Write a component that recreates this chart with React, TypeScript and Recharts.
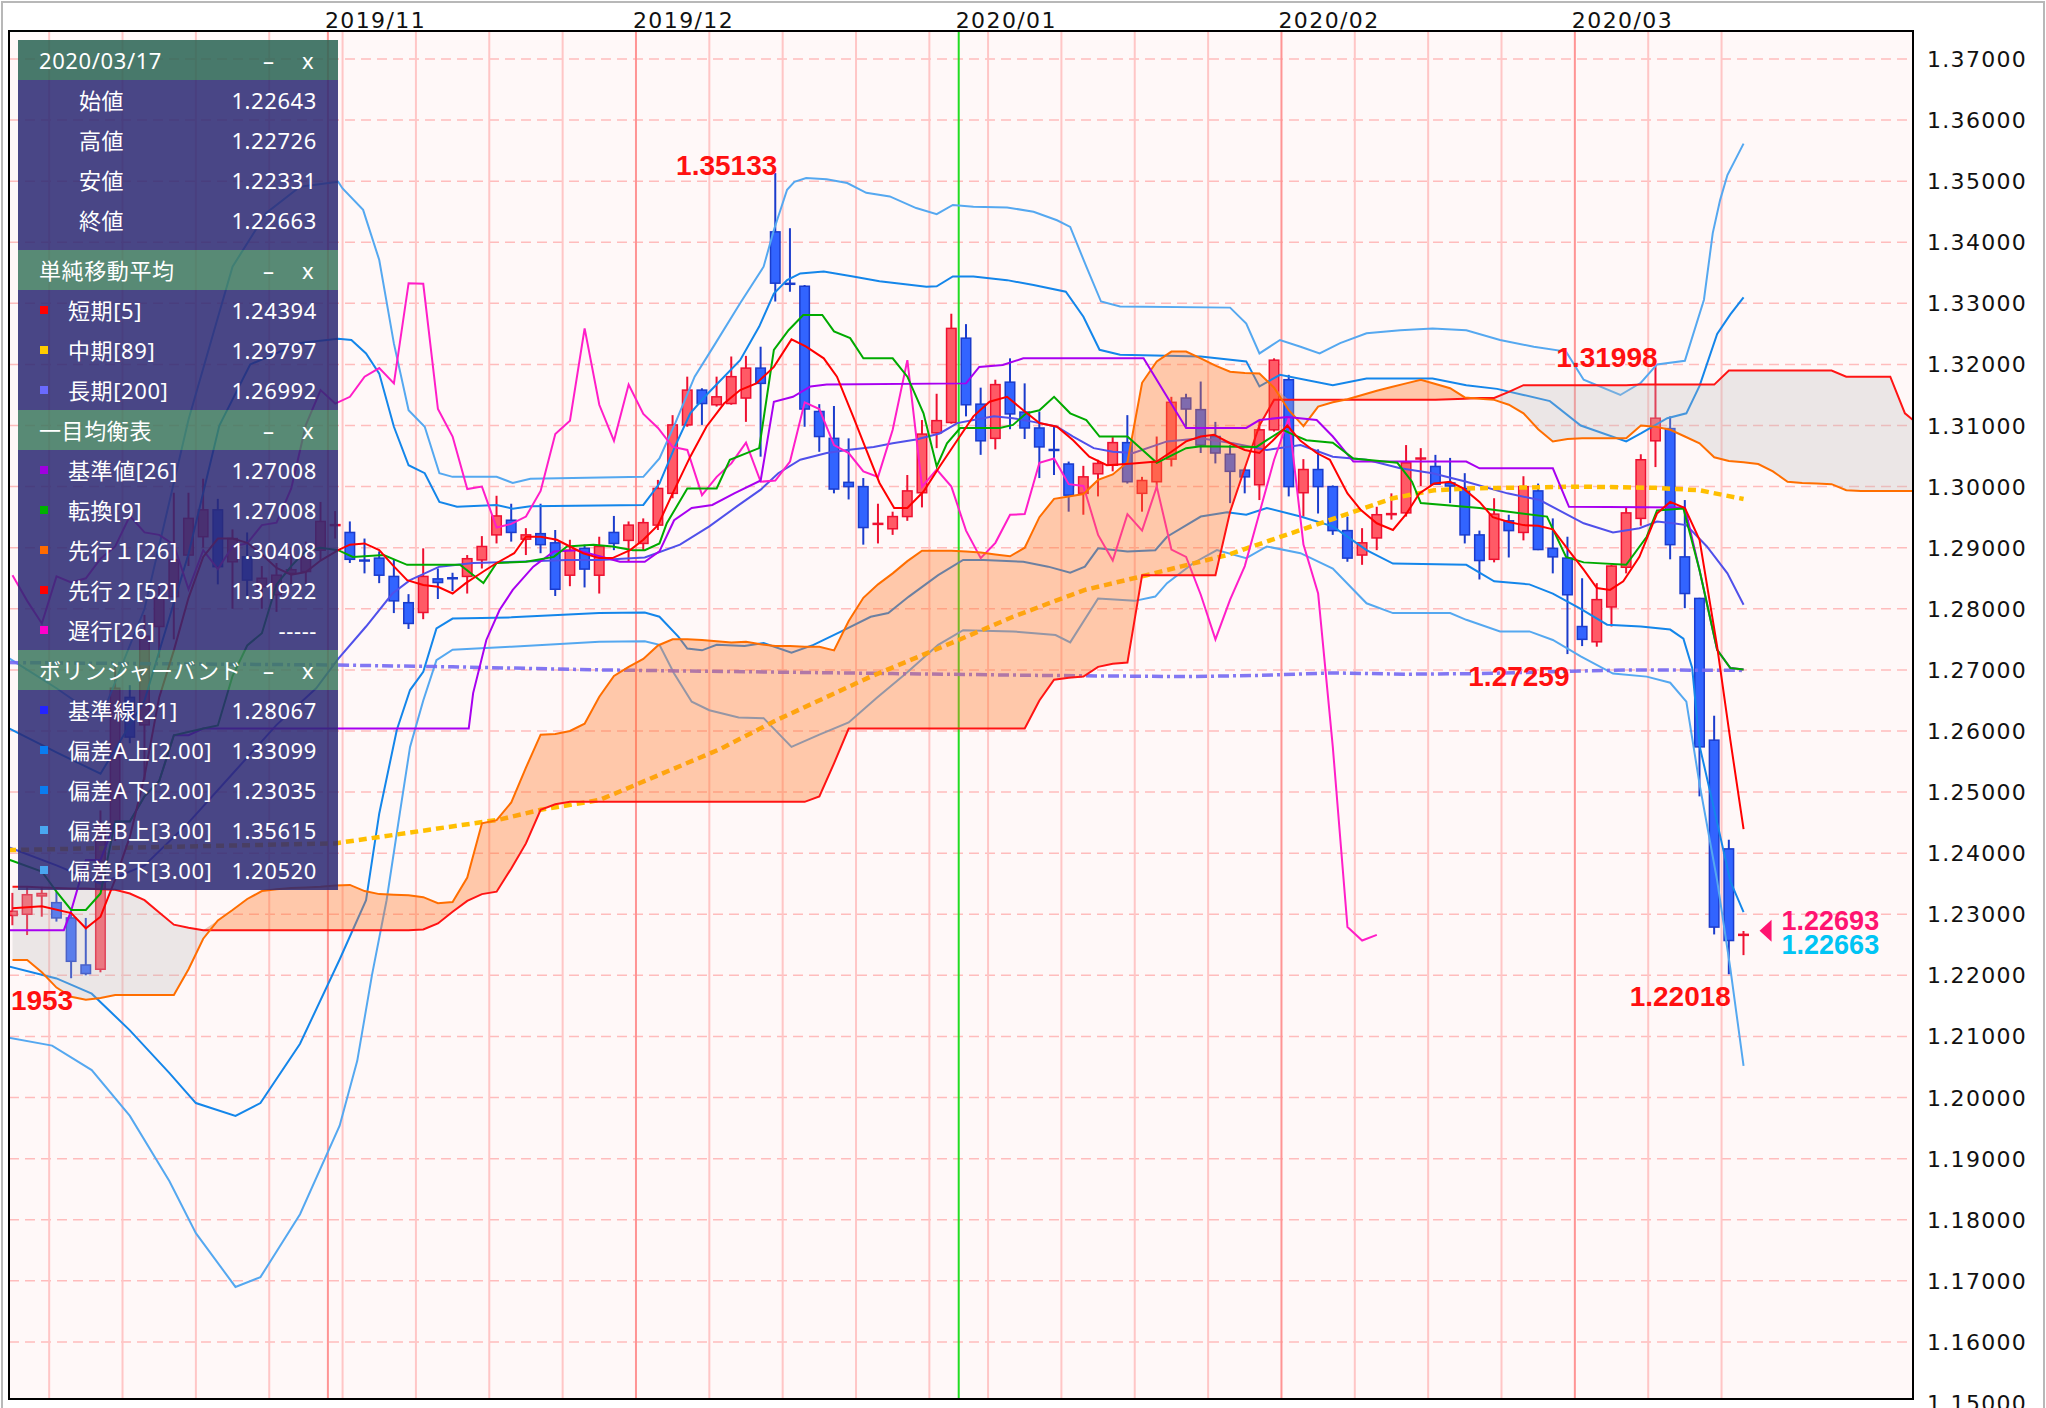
import React from 'react';
import { ComposedChart, Bar, Line, Area, XAxis, YAxis, CartesianGrid, ReferenceLine, ReferenceDot } from 'recharts';

// ---------- daily candles: index 0 = 2019/10/02 ... 118 = 2020/03/17 ----------
const OPEN = [
  1.2298,1.2300,1.2330,1.2319,1.2294,1.2217,1.2210,1.2440,1.2655,1.2610,
  1.2771,1.2820,1.2888,1.2918,1.2962,1.2877,1.2885,1.2836,1.2823,1.2858,
  1.2861,1.2896,1.2935,1.2925,1.2881,1.2883,1.2853,1.2810,1.2794,1.2849,
  1.2853,1.2853,1.2880,1.2921,1.2945,1.2914,1.2923,1.2908,1.2855,1.2899,
  1.2855,1.2925,1.2912,1.2907,1.2937,1.2989,1.3101,1.3158,1.3134,1.3136,
  1.3145,1.3194,1.3417,1.3335,1.3328,1.3123,1.3079,1.3007,1.3000,1.2937,
  1.2931,1.2951,1.2990,1.3088,1.3105,1.3243,1.3135,1.3079,1.3171,1.3122,
  1.3096,1.3062,1.3037,1.2989,1.3021,1.3035,1.3072,1.2989,1.3008,1.3045,
  1.3145,1.3126,1.3082,1.3053,1.3027,1.3003,1.3093,1.3175,1.2990,1.3028,
  1.3000,1.2928,1.2888,1.2916,1.2953,1.2957,1.3043,1.3033,1.3006,1.2997,
  1.2921,1.2881,1.2944,1.2925,1.2993,1.2899,1.2883,1.2771,1.2746,1.2803,
  1.2868,1.2948,1.3075,1.3095,1.2885,1.2817,1.2585,1.2407,1.22643,
];
const HIGH = [
  1.2335,1.2345,1.2345,1.2337,1.2304,1.2294,1.2470,1.2708,1.2675,1.2790,
  1.2840,1.2990,1.2990,1.3013,1.2980,1.2930,1.2925,1.2870,1.2875,1.2900,
  1.2910,1.2975,1.2960,1.2943,1.2915,1.2894,1.2880,1.2824,1.2899,1.2866,
  1.2859,1.2888,1.2919,1.2985,1.2972,1.2932,1.2972,1.2929,1.2913,1.2905,
  1.2918,1.2952,1.2943,1.2948,1.3011,1.3117,1.3180,1.3161,1.3180,1.3213,
  1.3214,1.3229,1.35133,1.3423,1.3330,1.3135,1.3132,1.3079,1.3014,1.2972,
  1.2959,1.3019,1.3109,1.3152,1.3283,1.3266,1.3162,1.3175,1.3210,1.3169,
  1.3123,1.3098,1.3041,1.3034,1.3044,1.3081,1.3117,1.3016,1.3082,1.3147,
  1.3152,1.3172,1.3106,1.3068,1.3030,1.3109,1.3210,1.3183,1.3045,1.3061,
  1.3002,1.2951,1.2932,1.2967,1.2989,1.3068,1.3063,1.3052,1.3047,1.3022,
  1.2928,1.2981,1.2954,1.3017,1.3005,1.2948,1.2918,1.2850,1.2842,1.2872,
  1.2965,1.3053,1.31998,1.3115,1.2978,1.2818,1.2625,1.2422,1.22726,
];
const LOW = [
  1.2282,1.2266,1.2296,1.2288,1.21953,1.2200,1.2205,1.2420,1.2580,1.2520,
  1.2720,1.2750,1.2870,1.2900,1.2840,1.2800,1.2820,1.2800,1.2795,1.2840,
  1.2840,1.2880,1.2915,1.2875,1.2858,1.2842,1.2793,1.2767,1.2783,1.2816,
  1.2829,1.2825,1.2866,1.2907,1.2910,1.2888,1.2891,1.2821,1.2837,1.2835,
  1.2825,1.2896,1.2877,1.2896,1.2929,1.2981,1.3098,1.3101,1.3131,1.3134,
  1.3106,1.3049,1.3303,1.3319,1.3098,1.3057,1.2989,1.2979,1.2905,1.2907,
  1.2921,1.2944,1.2966,1.3063,1.3103,1.3115,1.3052,1.3061,1.3094,1.3078,
  1.3014,1.3019,1.2959,1.2954,1.2984,1.3025,1.3005,1.2959,1.2995,1.3033,
  1.3098,1.3055,1.3038,1.2973,1.2989,1.2978,1.3090,1.2984,1.2951,1.2956,
  1.2921,1.2877,1.2872,1.2896,1.2946,1.2951,1.3001,1.3003,1.2973,1.2907,
  1.2848,1.2876,1.2884,1.2912,1.2896,1.2858,1.27259,1.2739,1.2738,1.2771,
  1.2858,1.2936,1.3032,1.2881,1.2801,1.2493,1.2267,1.22018,1.22331,
];
const CLOSE = [
  1.2305,1.2332,1.2334,1.2294,1.2223,1.2203,1.2445,1.2670,1.2590,1.2755,
  1.2817,1.2880,1.2948,1.2962,1.2869,1.2915,1.2847,1.2850,1.2855,1.2864,
  1.2885,1.2943,1.2937,1.2881,1.2879,1.2855,1.2813,1.2776,1.2853,1.2843,
  1.2850,1.2882,1.2902,1.2952,1.2925,1.2921,1.2905,1.2832,1.2896,1.2865,
  1.2902,1.2907,1.2937,1.2941,1.2997,1.3101,1.3158,1.3136,1.3147,1.3180,
  1.3194,1.3169,1.3333,1.3332,1.3127,1.3082,1.2996,1.3000,1.2933,1.2939,
  1.2951,1.2993,1.3086,1.3108,1.3259,1.3134,1.3075,1.3167,1.3119,1.3096,
  1.3065,1.3060,1.2986,1.3016,1.3038,1.3072,1.3008,1.3010,1.3041,1.3138,
  1.3127,1.3068,1.3055,1.3025,1.3016,1.3093,1.3207,1.3000,1.3028,1.3000,
  1.2928,1.2883,1.2908,1.2954,1.2955,1.3039,1.3046,1.3004,1.3001,1.2921,
  1.2879,1.2955,1.2928,1.3000,1.2897,1.2885,1.2823,1.2750,1.2815,1.2870,
  1.2957,1.3044,1.3112,1.2905,1.2825,1.2574,1.2279,1.2257,1.22663,
];

// ---------- Ichimoku cloud spans (slot 0..130, drawn 25 ahead) ----------
const SPAN_A = [
  1.2225,1.2225,1.2205,1.2180,1.2165,1.2160,1.2163,1.2168,1.2168,1.2168,
  1.2168,1.2168,1.2210,1.2260,1.2290,1.2307,1.2325,1.2338,1.2341,1.2343,
  1.2344,1.2345,1.2347,1.2348,1.2338,1.2333,1.2332,1.2331,1.2328,1.2318,
  1.2320,1.2360,1.2449,1.2454,1.2483,1.2540,1.2594,1.2595,1.2600,1.2612,
  1.2656,1.2690,1.2705,1.2718,1.2740,1.2750,1.2750,1.2749,1.2747,1.2745,
  1.2746,1.2742,1.2739,1.2739,1.2738,1.2738,1.2732,1.2780,1.2818,1.2840,
  1.2858,1.2878,1.2895,1.2895,1.2895,1.2894,1.2892,1.2889,1.2886,1.2900,
  1.2950,1.2980,1.2984,1.2988,1.3011,1.3020,1.3040,1.3170,1.3205,1.3221,
  1.3221,1.3210,1.3198,1.3188,1.3186,1.3185,1.3162,1.3125,1.3099,1.3131,
  1.3138,1.3143,1.3150,1.3157,1.3163,1.3169,1.3175,1.3168,1.3161,1.3146,
  1.3144,1.3142,1.3134,1.3120,1.3094,1.3074,1.3078,1.3079,1.3079,1.3079,
  1.3079,1.3100,1.3098,1.3093,1.3082,1.3071,1.3048,1.3042,1.3040,1.3037,
  1.3025,1.3008,1.3006,1.3005,1.3004,1.2994,1.2993,1.2993,1.2993,1.2993,1.2993,
];
const SPAN_B = [
  1.2345,1.2345,1.2344,1.2343,1.2342,1.2342,1.2341,1.2340,1.2334,1.2323,
  1.2303,1.2283,1.2278,1.2274,1.2274,1.2274,1.2274,1.2274,1.2274,1.2274,
  1.2274,1.2274,1.2274,1.2274,1.2274,1.2274,1.2274,1.2274,1.2275,1.2285,
  1.2304,1.2322,1.2333,1.2337,1.2375,1.2416,1.2471,1.2480,1.2484,1.2484,
  1.2484,1.2484,1.2484,1.2484,1.2484,1.2484,1.2484,1.2484,1.2484,1.2484,
  1.2484,1.2484,1.2484,1.2484,1.2484,1.2493,1.2547,1.2604,1.2604,1.2604,
  1.2604,1.2604,1.2604,1.2604,1.2604,1.2604,1.2604,1.2604,1.2604,1.2604,
  1.2650,1.2684,1.2687,1.2689,1.2705,1.2710,1.2712,1.2855,1.2855,1.2855,
  1.2855,1.2855,1.2855,1.2959,1.3030,1.3100,1.3142,1.3142,1.3142,1.3142,
  1.3142,1.3142,1.3142,1.3142,1.3142,1.3142,1.3142,1.3142,1.3143,1.3144,
  1.3145,1.3145,1.3155,1.3166,1.3166,1.3166,1.3166,1.3166,1.3166,1.3166,
  1.3166,1.3167,1.3167,1.3167,1.3167,1.3167,1.3167,1.3190,1.3190,1.3190,
  1.3190,1.3190,1.3190,1.3190,1.3190,1.3180,1.3180,1.3180,1.3180,1.3120,1.3100,
];
const CHIKOU_SHIFT = 25;

// ---------- indicator lines, [slot, value] vertices ----------
const SMA5: [number, number][] = [
  [0,1.2310],[2,1.2313],[4,1.2302],[5,1.2277],[6,1.2296],[7,1.2357],[8,1.2427],[9,1.2526],[10,1.2655],[11,1.2732],
  [12,1.2818],[13,1.2885],[14,1.2915],[15,1.2915],[16,1.2908],[17,1.2889],[18,1.2867],[19,1.2856],[20,1.2860],[21,1.2879],
  [22.2,1.2896],[23,1.2905],[24,1.2907],[25,1.2896],[25.9,1.2872],[26.9,1.2847],[28,1.2839],[29,1.2836],[30,1.2825],[30.9,1.2842],
  [32.1,1.2861],[33,1.2875],[34.2,1.2891],[35,1.2918],[36,1.2918],[37.1,1.2913],[38,1.2902],[38.9,1.2891],[40,1.2883],[40.9,1.2883],
  [42.1,1.2896],[43,1.2913],[44,1.2937],[45,1.2989],[46.2,1.3049],[47.3,1.3098],[48.5,1.3136],[49.6,1.3158],[50.7,1.3169],[51.9,1.3196],
  [53.1,1.3241],[54.1,1.3229],[55.3,1.3210],[56.2,1.3180],[57.3,1.3115],[58.2,1.3060],[59.1,1.3006],[60.1,1.2965],[61,1.2965],[62.1,1.2992],
  [63.2,1.3033],[64.4,1.3076],[65.5,1.3115],[66.6,1.3139],[67.8,1.3147],[68.9,1.3125],[70,1.3104],[71.2,1.3098],[72.3,1.3076],[73.4,1.3049],
  [74.6,1.3035],[76.4,1.3038],[78,1.3041],[79,1.3057],[80,1.3074],[81,1.3082],[81.9,1.3085],[83,1.3071],[84,1.3060],[85,1.3055],
  [85.9,1.3075],[86.9,1.3100],[87.8,1.3075],[88.9,1.3055],[89.8,1.3044],[91,1.2989],[91.9,1.2962],[93,1.2940],[94.1,1.2929],[95,1.2955],
  [95.9,1.2989],[96.9,1.3005],[98,1.3008],[98.9,1.2997],[100,1.2975],[100.9,1.2950],[102,1.2942],[103,1.2937],[104,1.2936],[105,1.2930],
  [106,1.2898],[107.1,1.2864],[108,1.2834],[108.9,1.2831],[109.8,1.2845],[110.9,1.2885],[112.1,1.2956],[113,1.2975],[114,1.2965],[115,1.2913],
  [116.2,1.2738],[117.1,1.2585],[118,1.24394],
];
const SMA89: [number, number][] = [
  [-0.3,1.2405],[22,1.2416],[33.2,1.2455],[36,1.2471],[40,1.2487],[41.4,1.2501],[48.2,1.2570],[52.1,1.2618],[58.5,1.2689],[64.5,1.2749],
  [68.2,1.2787],[73.1,1.2831],[77.3,1.2855],[79.6,1.2869],[82.8,1.2888],[90,1.2947],[94.1,1.2981],[96.9,1.2994],[99.1,1.2997],[106.9,1.3000],
  [112,1.2998],[115,1.2994],[118,1.29797],
];
const SMA200: [number, number][] = [
  [-0.3,1.2712],[22,1.2708],[30,1.2705],[40,1.2700],[50,1.2697],[60,1.2694],[70,1.2691],[80,1.2689],[85,1.2691],[90,1.2695],
  [95,1.2693],[100,1.2694],[105,1.2697],[110,1.2700],[118,1.26992],
];
const KIJUN: [number, number][] = [
  [-0.3,1.2274],[3.5,1.2274],[4,1.2306],[5,1.2389],[6,1.2389],[7,1.2452],[8,1.2452],[9,1.2493],[10,1.2518],[11,1.2593],
  [12,1.2593],[13,1.2604],[31.1,1.2604],[31.4,1.2662],[32.3,1.2749],[33.2,1.2798],[34.1,1.2831],[35.5,1.2869],[36.9,1.2894],[38.5,1.2896],
  [41.4,1.2877],[43.1,1.2877],[44.1,1.2894],[45.1,1.2945],[46.3,1.2965],[47.7,1.2970],[49.2,1.2989],[51,1.3010],[51.9,1.3139],[53.2,1.3147],
  [54.4,1.3164],[55.5,1.3167],[65,1.3169],[65.9,1.3196],[67.5,1.3199],[68.9,1.3210],[77.1,1.3210],[80,1.3096],[84.1,1.3096],[85,1.3109],
  [86.9,1.3114],[88.9,1.3109],[90,1.3082],[91.4,1.3041],[99.1,1.3041],[100,1.3030],[105,1.3030],[106.1,1.2967],[114,1.2966],[115,1.2863],
  [116.2,1.2733],[117.1,1.2703],[118,1.27008],
];
const TENKAN: [number, number][] = [
  [-0.3,1.2390],[2,1.2370],[3,1.2337],[4,1.2307],[5,1.2307],[6,1.2334],[7,1.2452],[8,1.2452],[9,1.2493],[10,1.2518],
  [11,1.2593],[13,1.2604],[14,1.2609],[15,1.2690],[16,1.2740],[17,1.2760],[18,1.2840],[19,1.2870],[20,1.2895],[21,1.2900],
  [22.2,1.2896],[23.2,1.2885],[25.3,1.2888],[26.9,1.2872],[30.5,1.2872],[32.1,1.2842],[33,1.2875],[35,1.2877],[36.9,1.2885],[37.8,1.2902],
  [39.6,1.2905],[40.9,1.2902],[42.3,1.2896],[43.1,1.2896],[44.1,1.2907],[44.6,1.2940],[46,1.2997],[48,1.2997],[48.9,1.3044],[50.9,1.3063],
  [51.9,1.3224],[52.9,1.3256],[53.9,1.3281],[55.2,1.3281],[56,1.3254],[57.1,1.3243],[58,1.3210],[60,1.3210],[61,1.3180],[62.1,1.3120],
  [63,1.3033],[63.7,1.3071],[64.6,1.3096],[67.3,1.3096],[68.2,1.3101],[69.1,1.3120],[70,1.3125],[71,1.3147],[72.1,1.3120],[73.2,1.3109],
  [74.1,1.3082],[76,1.3082],[78,1.3039],[80,1.3063],[81,1.3066],[84.8,1.3065],[85.5,1.3076],[86.6,1.3093],[87.3,1.3085],[88.2,1.3076],
  [90,1.3072],[91.4,1.3046],[94.4,1.3039],[95.4,1.3008],[96,1.2973],[100,1.2965],[104.6,1.2951],[105.9,1.2885],[107.1,1.2876],[110,1.2872],
  [111.4,1.2918],[112.1,1.2961],[113.9,1.2964],[115,1.2863],[116.2,1.2733],[117.1,1.2703],[118,1.27008],
];
const BB_MID: [number, number][] = [
  [-0.3,1.2410],[3,1.2380],[6,1.2350],[9,1.2380],[12,1.2450],[15,1.2530],[18,1.2610],[20.7,1.2670],[22.2,1.2718],[24.1,1.2771],
  [25.9,1.2825],[27.1,1.2847],[29.1,1.2869],[31.4,1.2875],[34.4,1.2877],[37.8,1.2880],[40,1.2880],[43.1,1.2884],[45.5,1.2905],[47.5,1.2935],
  [49.4,1.2968],[51,1.2995],[52.2,1.3022],[53.7,1.3044],[55.5,1.3055],[56.9,1.3060],[58.7,1.3065],[60,1.3071],[61.6,1.3077],[63.2,1.3087],
  [64.4,1.3104],[65.5,1.3109],[66.9,1.3115],[68.2,1.3112],[69.6,1.3106],[71.2,1.3098],[72.3,1.3082],[73.7,1.3063],[75,1.3057],[76.4,1.3055],
  [78.7,1.3074],[81,1.3079],[83.2,1.3071],[85.5,1.3060],[87.8,1.3068],[90,1.3049],[92.3,1.3044],[94.6,1.3030],[96.8,1.3022],[99.1,1.3008],
  [101.9,1.2989],[104.1,1.2978],[107.1,1.2940],[109.1,1.2925],[110.9,1.2932],[112.1,1.2943],[113.2,1.2940],[114.1,1.2937],[115.5,1.2902],[116.9,1.2858],
  [118,1.28067],
];
const BB_UP2: [number, number][] = [
  [-0.3,1.2605],[3,1.2565],[6,1.2530],[9,1.2650],[12,1.2890],[14.1,1.3100],[16.2,1.3200],[19.6,1.3235],[22.2,1.3242],[23.1,1.3240],
  [24.1,1.3218],[25,1.3185],[26,1.3098],[27,1.3035],[28.1,1.3022],[29.1,1.2975],[30.3,1.2967],[33,1.2970],[34.1,1.2964],[35.3,1.2968],
  [43,1.2970],[44.1,1.3005],[45.2,1.3068],[46.2,1.3120],[47.3,1.3150],[49.6,1.3207],[50.9,1.3262],[51.9,1.3316],[52.8,1.3338],[53.7,1.3349],
  [55.3,1.3352],[57.3,1.3344],[59.1,1.3336],[62.3,1.3327],[63,1.3328],[64.1,1.3344],[65.5,1.3344],[67.8,1.3338],[69.6,1.3330],[71.8,1.3319],
  [73,1.3278],[74.1,1.3224],[75.5,1.3216],[81,1.3213],[84.1,1.3205],[85,1.3164],[86.4,1.3183],[90,1.3166],[92.3,1.3177],[96.8,1.3177],
  [99.1,1.3166],[101.2,1.3160],[103,1.3150],[104.8,1.3140],[106.9,1.3100],[110,1.3074],[111,1.3087],[112.8,1.3112],[114.1,1.3120],[115,1.3165],
  [116.2,1.3250],[117.1,1.3282],[118,1.33099],
];
const BB_UP3: [number, number][] = [
  [-0.3,1.2720],[3,1.2670],[6,1.2620],[9,1.2800],[12,1.3110],[13.7,1.3252],[15,1.3360],[17.3,1.3448],[19.6,1.3491],[22.2,1.3499],
  [22.5,1.3488],[23.9,1.3453],[25,1.3371],[26,1.3234],[27,1.3125],[28.1,1.3098],[29.1,1.3022],[30,1.3016],[33,1.3016],[34.1,1.3006],
  [35.3,1.3013],[43,1.3016],[44.1,1.3046],[45.2,1.3105],[46.5,1.3180],[47.8,1.3230],[49.6,1.3300],[51.2,1.3360],[51.9,1.3420],[52.8,1.3486],
  [53.3,1.3499],[54.1,1.3505],[55.5,1.3503],[56.9,1.3497],[58.2,1.3481],[59.8,1.3475],[61.6,1.3456],[63,1.3446],[64.1,1.3461],[65.5,1.3458],
  [67.8,1.3457],[69.6,1.3450],[71.2,1.3436],[72.1,1.3425],[73.2,1.3360],[74.2,1.3303],[75.5,1.3295],[83,1.3293],[84.1,1.3267],[85,1.3218],
  [86.4,1.3240],[87.8,1.3229],[89.1,1.3218],[90.5,1.3235],[92.3,1.3251],[94.6,1.3256],[96.8,1.3259],[99.1,1.3256],[101.4,1.3240],[103.7,1.3229],
  [105.9,1.3221],[107.1,1.3175],[109.6,1.3150],[111,1.3170],[112.1,1.3200],[114,1.3206],[115.3,1.3306],[115.9,1.3415],[116.4,1.3469],[116.9,1.3510],
  [118,1.35615],
];
const BB_DN2: [number, number][] = [
  [-0.3,1.2215],[3,1.2195],[5.4,1.2170],[8,1.2110],[10.7,1.2040],[12.5,1.1991],[15.2,1.1970],[16.9,1.1991],[19.6,1.2088],[22.3,1.2226],
  [24.1,1.2323],[25,1.2465],[26.2,1.2602],[27.1,1.2667],[28,1.2697],[28.9,1.2768],[30,1.2784],[34,1.2786],[40,1.2793],[43.1,1.2794],
  [44.1,1.2787],[45.4,1.2754],[46,1.2735],[47,1.2732],[48,1.2741],[49.9,1.2739],[51.2,1.2744],[53.1,1.2728],[54.6,1.2741],[56.5,1.2763],
  [58.5,1.2787],[59.7,1.2793],[61.1,1.2820],[63.1,1.2855],[64.8,1.2880],[66.2,1.2880],[68.9,1.2877],[70.6,1.2869],[72.1,1.2859],[73.1,1.2869],
  [74,1.2899],[76,1.2894],[77.9,1.2896],[78.7,1.2918],[81,1.2951],[82.8,1.2958],[84.1,1.2954],[85.5,1.2965],[87.8,1.2951],[90,1.2935],
  [92.3,1.2896],[94.1,1.2874],[99.1,1.2872],[101,1.2845],[103.4,1.2840],[105,1.2825],[106.9,1.2800],[108.7,1.2774],[111,1.2771],[113,1.2766],
  [113.9,1.2751],[114.5,1.2703],[115,1.2576],[116.2,1.2450],[117.1,1.2354],[118,1.23035],
];
const BB_DN3: [number, number][] = [
  [-0.3,1.2098],[2.7,1.2085],[5.4,1.2045],[8,1.1970],[10.7,1.1863],[12.5,1.1778],[15.2,1.1690],[16.9,1.1706],[19.6,1.1809],[22.3,1.1954],
  [23.5,1.2060],[24.5,1.2200],[25.5,1.2323],[26.4,1.2465],[27.1,1.2574],[28,1.2650],[28.9,1.2716],[30,1.2733],[34,1.2738],[40,1.2746],
  [43.1,1.2747],[44.1,1.2741],[45.1,1.2694],[46.3,1.2648],[47.5,1.2634],[49.5,1.2622],[51.2,1.2621],[53.1,1.2574],[55,1.2594],[57,1.2614],
  [58.9,1.2654],[60.9,1.2694],[63.1,1.2741],[64.8,1.2765],[68.2,1.2763],[71.1,1.2757],[72.1,1.2745],[74,1.2817],[76.5,1.2813],[77.9,1.2820],
  [78.7,1.2842],[80.5,1.2875],[82.1,1.2896],[84.1,1.2883],[85.5,1.2902],[87.8,1.2891],[90,1.2866],[92.3,1.2809],[94.1,1.2793],[98,1.2793],
  [99.1,1.2782],[101.4,1.2763],[103.4,1.2763],[105,1.2749],[106.9,1.2722],[109.1,1.2694],[111.4,1.2689],[113,1.2679],[114.1,1.2648],[115,1.2513],
  [116.2,1.2355],[117.1,1.2211],[118,1.2052],
];

// ---------- axes, grid lines, labels ----------
const X_MIN = -0.2386;
const X_MAX = 129.55;
const Y_MIN = 1.15;
const Y_MAX = 1.37458;
const Y_TICKS = [1.15,1.16,1.17,1.18,1.19,1.20,1.21,1.22,1.23,1.24,1.25,1.26,1.27,1.28,1.29,1.30,1.31,1.32,1.33,1.34,1.35,1.36,1.37];
const MONTH_TICKS = [21.5, 42.5, 64.5, 86.5, 106.5];
const MONTH_LABELS = ['2019/11', '2019/12', '2020/01', '2020/02', '2020/03'];
const MONTH_LINES = [21.5, 42.5, 86.5, 106.5];
const YEAR_LINES = [64.5];
const WEEK_LINES = [2.5,7.5,12.5,17.5,22.5,27.5,32.5,37.5,47.5,52.5,57.5,62.5,66.5,71.5,76.5,81.5,91.5,96.5,101.5,111.5,116.5];

const ANNOTATIONS = [
  { x: 52, y: 1.35133, text: '1.35133', below: false },
  { x: 112, y: 1.31998, text: '1.31998', below: false },
  { x: 106, y: 1.27259, text: '1.27259', below: true },
  { x: 117, y: 1.22018, text: '1.22018', below: true },
  { x: 4, y: 1.21953, text: '1.21953', below: true },
];
const LAST_SLOT = 118;
const LAST_CLOSE = 1.22663;
const ASK_TEXT = '1.22693';
const BID_TEXT = '1.22663';

const PANEL = [
  { title: '2020/03/17', pad: 10, rows: [
    { dot: '', label: '始値', value: '1.22643' },
    { dot: '', label: '高値', value: '1.22726' },
    { dot: '', label: '安値', value: '1.22331' },
    { dot: '', label: '終値', value: '1.22663' },
  ] },
  { title: '単純移動平均', pad: 0, rows: [
    { dot: '#ff0000', label: '短期[5]', value: '1.24394' },
    { dot: '#ffcc00', label: '中期[89]', value: '1.29797' },
    { dot: '#6a6aff', label: '長期[200]', value: '1.26992' },
  ] },
  { title: '一目均衡表', pad: 0, rows: [
    { dot: '#a000e0', label: '基準値[26]', value: '1.27008' },
    { dot: '#00b000', label: '転換[9]', value: '1.27008' },
    { dot: '#ff6a00', label: '先行１[26]', value: '1.30408' },
    { dot: '#ff0000', label: '先行２[52]', value: '1.31922' },
    { dot: '#ff00cc', label: '遅行[26]', value: '-----' },
  ] },
  { title: 'ボリンジャーバンド', pad: 0, rows: [
    { dot: '#2424ff', label: '基準線[21]', value: '1.28067' },
    { dot: '#0a7cf0', label: '偏差A上[2.00]', value: '1.33099' },
    { dot: '#0a7cf0', label: '偏差A下[2.00]', value: '1.23035' },
    { dot: '#4aa6f0', label: '偏差B上[3.00]', value: '1.35615' },
    { dot: '#4aa6f0', label: '偏差B下[3.00]', value: '1.20520' },
  ] },
];

// ---------- build the table Recharts needs ----------
type Row = { x: number; [k: string]: number | undefined };
const rowMap = new Map<number, Row>();
const getRow = (x: number): Row => {
  const key = Math.round(x * 100) / 100;
  let r = rowMap.get(key);
  if (!r) { r = { x: key }; rowMap.set(key, r); }
  return r;
};
for (let i = 0; i < SPAN_A.length; i++) getRow(i);
OPEN.forEach((o, i) => { const r = getRow(i); r.o = o; r.h = HIGH[i]; r.l = LOW[i]; r.c = CLOSE[i]; });
SPAN_A.forEach((v, i) => { getRow(i).sa = v; });
SPAN_B.forEach((v, i) => { getRow(i).sb = v; });
CLOSE.forEach((v, i) => { if (i >= CHIKOU_SHIFT) getRow(i - CHIKOU_SHIFT).chikou = v; });
const addSeries = (key: string, pts: [number, number][]) => pts.forEach(([x, v]) => { getRow(x)[key] = v; });
addSeries('sma5', SMA5);
addSeries('sma89', SMA89);
addSeries('sma200', SMA200);
addSeries('kijun', KIJUN);
addSeries('tenkan', TENKAN);
addSeries('bbMid', BB_MID);
addSeries('bbUp2', BB_UP2);
addSeries('bbUp3', BB_UP3);
addSeries('bbDn2', BB_DN2);
addSeries('bbDn3', BB_DN3);
const DATA = Array.from(rowMap.values()).sort((a, b) => a.x - b.x);

// ---------- drawing helpers ----------
const Candle = (props: any) => {
  const { x, y, width, height, payload } = props;
  if (!payload || payload.h == null || x == null || y == null || isNaN(y) || isNaN(height)) return <g />;
  const top = Math.min(y, y + height);
  const span = Math.abs(height);
  const { o, h, l, c } = payload;
  const k = h > l ? span / (h - l) : 0;
  const yO = top + (h - o) * k;
  const yC = top + (h - c) * k;
  const cx = x + width / 2;
  const up = c >= o;
  const stroke = up ? '#ee1030' : '#1b3ccc';
  const fill = up ? '#ff5a66' : '#3264ff';
  const bw = 11;
  const bTop = Math.min(yO, yC);
  const bH = Math.abs(yO - yC);
  return (
    <g>
      <line x1={cx} x2={cx} y1={top} y2={top + span} stroke={stroke} strokeWidth={2} />
      {bH < 2 ? (
        <line x1={cx - bw / 2} x2={cx + bw / 2} y1={yC} y2={yC} stroke={stroke} strokeWidth={2.5} />
      ) : (
        <rect x={cx - bw / 2 + 0.75} y={bTop} width={bw - 1.5} height={bH} fill={fill} stroke={stroke} strokeWidth={1.5} />
      )}
    </g>
  );
};

const MonthTick = (props: any) => {
  const { x, y, payload } = props;
  const idx = MONTH_TICKS.indexOf(payload.value);
  return (
    <text x={x - 3} y={y} textAnchor="start" fontFamily="'DejaVu Sans', sans-serif" fontSize={22} letterSpacing={1.4} fill="#111">
      {idx >= 0 ? MONTH_LABELS[idx] : ''}
    </text>
  );
};

const PriceTick = (props: any) => {
  const { x, y, payload } = props;
  return (
    <text x={x} y={y} dy={8} textAnchor="start" fontFamily="'DejaVu Sans', sans-serif" fontSize={22} letterSpacing={1.3} fill="#111">
      {Number(payload.value).toFixed(5)}
    </text>
  );
};

const ANN_FONT = "'Liberation Sans', Arial, sans-serif";

const lineProps = {
  type: 'linear' as const,
  dot: false,
  activeDot: false,
  connectNulls: true,
  isAnimationActive: false,
  strokeWidth: 2,
};

const PANEL_FONT = "'Noto Sans', 'Noto Sans CJK JP', sans-serif";
const HEAD0 = 'rgba(42,100,84,0.86)';
const HEAD = 'rgba(60,120,95,0.86)';
const BODY = 'rgba(43,41,115,0.86)';

function Panel() {
  return (
    <div style={{ position: 'absolute', left: 18, top: 40, width: 320, fontFamily: PANEL_FONT, fontSize: 22, color: '#fff', letterSpacing: 0.6 }}>
      {PANEL.map((sec, si) => (
        <div key={si}>
          <div style={{ position: 'relative', height: 40, lineHeight: '40px', background: si === 0 ? HEAD0 : HEAD, paddingLeft: 21, whiteSpace: 'nowrap' }}>
            {sec.title}
            <span style={{ position: 'absolute', left: 245, top: 0 }}>–</span>
            <span style={{ position: 'absolute', left: 284, top: 0 }}>x</span>
          </div>
          <div style={{ background: BODY, paddingBottom: sec.pad }}>
            {sec.rows.map((r, ri) => (
              <div key={ri} style={{ position: 'relative', height: 40, lineHeight: '40px', whiteSpace: 'nowrap' }}>
                {r.dot ? <span style={{ position: 'absolute', left: 22, top: 16, width: 8, height: 8, background: r.dot }} /> : null}
                <span style={{ position: 'absolute', left: r.dot ? 50 : 61, top: 0 }}>{r.label}</span>
                <span style={{ position: 'absolute', right: 21, top: 0 }}>{r.value}</span>
              </div>
            ))}
          </div>
        </div>
      ))}
    </div>
  );
}

export default function App() {
  return (
    <div style={{ position: 'absolute', left: 0, top: 0, width: 2046, height: 1408, background: '#fff', overflow: 'hidden' }}>
      <ComposedChart width={2046} height={1408} data={DATA} margin={{ top: 0, right: 0, bottom: 5, left: 9 }}>
        <CartesianGrid vertical={false} stroke="#ffbcbc" strokeWidth={1.5} strokeDasharray="10 6" fill="#fff8f8" />
        <XAxis dataKey="x" type="number" orientation="top" domain={[X_MIN, X_MAX]} allowDataOverflow ticks={MONTH_TICKS}
          interval={0} height={31} axisLine={false} tickLine={false} tickSize={0} tickMargin={3} tick={<MonthTick />} />
        <YAxis type="number" orientation="right" domain={[Y_MIN, Y_MAX]} allowDataOverflow ticks={Y_TICKS} interval={0}
          width={133} axisLine={false} tickLine={false} tickSize={0} tickMargin={14} tick={<PriceTick />} />

        {WEEK_LINES.map((v) => (
          <ReferenceLine key={'w' + v} x={v} stroke="#ffc6c6" strokeWidth={2} ifOverflow="hidden" zIndex={5} />
        ))}
        {MONTH_LINES.map((v) => (
          <ReferenceLine key={'m' + v} x={v} stroke="#ff9494" strokeWidth={2} ifOverflow="hidden" zIndex={6} />
        ))}
        {YEAR_LINES.map((v) => (
          <ReferenceLine key={'y' + v} x={v} stroke="#22dd22" strokeWidth={2} ifOverflow="hidden" zIndex={7} />
        ))}

        <Bar dataKey={(r: any) => (r.h == null ? null : [r.l, r.h])} barSize={11} isAnimationActive={false}
          shape={(p: any) => <Candle {...p} />} zIndex={20} />

        <Line {...lineProps} dataKey="bbUp3" stroke="#55a8f0" zIndex={30} />
        <Line {...lineProps} dataKey="bbDn3" stroke="#55a8f0" zIndex={30} />
        <Line {...lineProps} dataKey="bbUp2" stroke="#1486ea" zIndex={30} />
        <Line {...lineProps} dataKey="bbDn2" stroke="#1486ea" zIndex={30} />
        <Line {...lineProps} dataKey="bbMid" stroke="#5050ea" zIndex={30} />
        <Line {...lineProps} dataKey="sma200" stroke="#7468f2" strokeOpacity={0.9} strokeWidth={3.5} strokeDasharray="11 4 3 4" zIndex={30} />
        <Line {...lineProps} dataKey="sma89" stroke="#ffbf00" strokeWidth={4.5} strokeDasharray="8 5" zIndex={30} />
        <Line {...lineProps} dataKey="chikou" stroke="#ff1ec8" zIndex={30} />

        <Area type="linear" dataKey={(r: any) => (r.sa == null ? null : [r.sb, Math.max(r.sa, r.sb)])} stroke="none"
          fill="#ff7828" fillOpacity={0.375} connectNulls isAnimationActive={false} dot={false} activeDot={false} zIndex={40} />
        <Area type="linear" dataKey={(r: any) => (r.sa == null ? null : [r.sa, Math.max(r.sa, r.sb)])} stroke="none"
          fill="#bdbdbd" fillOpacity={0.3} connectNulls isAnimationActive={false} dot={false} activeDot={false} zIndex={40} />

        <Line {...lineProps} dataKey="sb" stroke="#ff1414" zIndex={50} />
        <Line {...lineProps} dataKey="sa" stroke="#ff6e00" zIndex={50} />
        <Line {...lineProps} dataKey="kijun" stroke="#a800f0" zIndex={51} />
        <Line {...lineProps} dataKey="tenkan" stroke="#00aa00" zIndex={52} />
        <Line {...lineProps} dataKey="sma5" stroke="#ff0000" zIndex={53} />

        {ANNOTATIONS.map((a) => (
          <ReferenceDot key={a.text} x={a.x} y={a.y} r={0} zIndex={60}
            shape={(p: any) => (
              <text x={p.cx + 2} y={p.cy + (a.below ? 32 : 2)} textAnchor="end" fontFamily={ANN_FONT} fontWeight="bold"
                fontSize={28} fill="#ff1010">{a.text}</text>
            )} />
        ))}
        <ReferenceDot x={LAST_SLOT} y={LAST_CLOSE} r={0} zIndex={60}
          shape={(p: any) => (
            <g>
              <polygon points={`${p.cx + 16},${p.cy - 4} ${p.cx + 28},${p.cy - 15} ${p.cx + 28},${p.cy + 7}`} fill="#ff1470" />
              <text x={p.cx + 38} y={p.cy - 5} textAnchor="start" fontFamily={ANN_FONT} fontWeight="bold" fontSize={27} fill="#ff1470">{ASK_TEXT}</text>
              <text x={p.cx + 38} y={p.cy + 19} textAnchor="start" fontFamily={ANN_FONT} fontWeight="bold" fontSize={27} fill="#00c4f4">{BID_TEXT}</text>
            </g>
          )} />
      </ComposedChart>

      {/* masks outside the plot area, plot frame and outer border */}
      <div style={{ position: 'absolute', left: 0, top: 31, width: 9, height: 1377, background: '#fff' }} />
      <div style={{ position: 'absolute', left: 0, top: 1399, width: 1914, height: 9, background: '#fff' }} />
      <div style={{ position: 'absolute', left: 8, top: 30, width: 1906, height: 1370, border: '2px solid #000', boxSizing: 'border-box' }} />
      <div style={{ position: 'absolute', left: 1, top: 1, width: 2044, height: 1410, borderTop: '2px solid #b8b8b8', borderLeft: '2px solid #b8b8b8', borderRight: '2px solid #b8b8b8', boxSizing: 'border-box' }} />

      <Panel />
    </div>
  );
}
